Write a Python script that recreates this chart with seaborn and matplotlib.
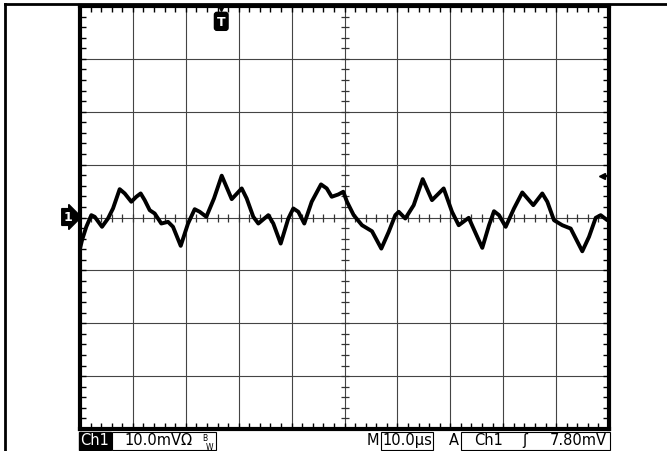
import numpy as np
import pandas as pd
import seaborn as sns
import matplotlib.pyplot as plt
from matplotlib.lines import Line2D
from matplotlib.patches import Rectangle

# ─── Trace (time in µs, amplitude in mV) ─────────────────────────────
time_us = [0.0, 0.38, 1.19, 2.14, 2.78, 4.16, 5.29, 6.24, 7.50, 8.45,
           9.70, 10.64, 11.47, 12.23, 13.18, 14.12, 15.37, 16.64, 17.58,
           19.04, 20.42, 21.68, 22.63, 23.88, 25.33, 26.79, 28.68, 30.57,
           31.51, 32.76, 33.71, 35.60, 36.54, 37.94, 39.38, 40.32, 41.27,
           42.40, 43.80, 45.56, 46.64, 47.58, 48.83, 49.77, 50.47, 51.74,
           53.31, 55.20, 56.96, 58.36, 59.60, 60.25, 61.49, 63.08, 64.78,
           66.54, 67.81, 68.75, 70.32, 71.59, 73.48, 75.24, 76.05, 77.32,
           78.26, 79.21, 80.47, 82.04, 83.61, 85.69, 87.39, 88.34, 89.60,
           91.17, 92.76, 94.95, 96.22, 97.49, 98.43, 99.68, 100.0]
volts_mv = [-5.9, -4.30, -1.76, 0.44, 0.13, -1.76, -0.19, 1.71, 5.36, 4.55,
            2.98, 3.92, 4.55, 3.28, 1.38, 0.76, -1.14, -0.82, -1.76,
            -5.36, -1.14, 1.57, 1.08, 0.13, 3.60, 7.91, 3.47, 5.50,
            3.60, 0.13, -1.14, 0.44, -1.14, -4.93, -0.19, 1.71, 1.08,
            -1.14, 2.98, 6.26, 5.50, 3.92, 4.36, 4.87, 2.98, 0.44,
            -1.46, -2.60, -5.88, -2.71, 0.44, 1.08, -0.19, 2.33, 7.26,
            3.28, 4.55, 5.50, 1.08, -1.46, -0.06, -3.98, -5.74, -1.46,
            1.19, 0.44, -1.76, 1.71, 4.74, 2.33, 4.55, 2.98, -0.51,
            -1.46, -2.09, -6.39, -3.66, -0.06, 0.44, -0.51, -0.38]

volts_per_div = 10.0      # mV/div
time_per_div = 10.0       # µs/div
trigger_level = 7.80      # mV
trigger_time = 26.7       # µs, "T" marker

status_ch = "Ch1"
status_scale = "10.0mV\u03a9"
status_time = "10.0\u00b5s"
status_trig_ch = "Ch1"
status_trig_edge = "\u0283"
status_trig_lvl = "7.80mV"

df = pd.DataFrame({"t": time_us, "v": volts_mv})

plt.rcParams["font.family"] = ["DejaVu Sans"]

W, H = 667, 452
fig = plt.figure(figsize=(W / 100, H / 100), dpi=100)


def fx(px):
    return px / W


def fy(py):
    return 1 - py / H


ax = fig.add_axes([fx(80), fy(430), fx(609) - fx(80), fy(7) - fy(430)])

# ─── Graticule ────────────────────────────────────────────────────────
xmax = 10 * time_per_div
ymax = 4 * volts_per_div
ax.set_xlim(0, xmax)
ax.set_ylim(-ymax, ymax)
for x in np.arange(time_per_div, xmax, time_per_div):
    ax.axvline(x, color="#444444", lw=0.8, zorder=1)
for y in np.arange(-ymax + volts_per_div, ymax, volts_per_div):
    ax.axhline(y, color="#444444", lw=0.8, zorder=1)

minor_x = np.arange(0, xmax + 0.01, time_per_div / 5)
minor_y = np.arange(-ymax, ymax + 0.01, volts_per_div / 5)
ax.plot(minor_x, np.zeros_like(minor_x), ls="none", marker="|", ms=6,
        mew=0.9, color="#333333", zorder=1)
ax.plot(np.full_like(minor_y, xmax / 2), minor_y, ls="none", marker="_",
        ms=6, mew=0.9, color="#333333", zorder=1)

ax.set_xticks(minor_x)
ax.set_yticks(minor_y)
ax.tick_params(direction="in", length=4, width=1, top=True, right=True,
               labelbottom=False, labelleft=False, color="black")
for s in ax.spines.values():
    s.set_linewidth(3)
    s.set_color("black")

# ─── Trace ────────────────────────────────────────────────────────────
sns.lineplot(data=df, x="t", y="v", ax=ax, color="black", lw=2.8,
             zorder=3, estimator=None)
ax.set_xlabel("")
ax.set_ylabel("")

# ─── Markers: channel, trigger position, trigger level ────────────────
fig.text(fx(68), fy(218), "1", color="white", fontsize=9, weight="bold",
         ha="center", va="center",
         bbox=dict(boxstyle="rarrow,pad=0.15", fc="black", ec="black"))
ax.plot([trigger_time], [ymax - 0.4], marker="v", ms=5, color="black",
        clip_on=False, zorder=4)
ax.text(trigger_time, ymax - 2.9, "T", color="white", fontsize=9,
        weight="bold", ha="center", va="center", zorder=4,
        bbox=dict(boxstyle="round,pad=0.2", fc="black", ec="black"))
ax.plot([xmax - 1.3], [trigger_level], marker="<", ms=5, color="black",
        zorder=4)
ax.plot([xmax - 1.3, xmax - 0.3], [trigger_level, trigger_level],
        color="black", lw=1, zorder=4)

# ─── Outer frame ──────────────────────────────────────────────────────
fig.add_artist(Line2D([fx(5), 1], [fy(5), fy(5)], color="black", lw=2))
fig.add_artist(Line2D([fx(5), fx(5)], [fy(5), 0], color="black", lw=2))

# ─── Status bar ───────────────────────────────────────────────────────
fs = 10.5
ty = fy(441)
top, bot = fy(433), fy(451)
fig.add_artist(Rectangle((fx(79), bot), fx(111) - fx(79), top - bot,
                         color="black"))
fig.text(fx(95), ty, status_ch, color="white", fontsize=fs,
         ha="center", va="center")
fig.add_artist(Rectangle((fx(112), bot), fx(216) - fx(112), top - bot,
                         fill=False, ec="black", lw=0.8))
fig.text(fx(124), ty, status_scale, fontsize=fs, ha="left", va="center")
fig.text(fx(202), fy(443), "B", fontsize=5.5, ha="left", va="bottom")
fig.text(fx(206), fy(443), "W", fontsize=5.5, ha="left", va="top")
fig.text(fx(379), ty, "M", fontsize=fs, ha="right", va="center")
fig.add_artist(Rectangle((fx(381), bot), fx(433) - fx(381), top - bot,
                         fill=False, ec="black", lw=0.8))
fig.text(fx(407), ty, status_time, fontsize=fs, ha="center", va="center")
fig.text(fx(454), ty, "A", fontsize=fs, ha="center", va="center")
fig.add_artist(Rectangle((fx(461), bot), fx(610) - fx(461), top - bot,
                         fill=False, ec="black", lw=0.8))
fig.text(fx(474), ty, status_trig_ch, fontsize=fs, ha="left", va="center")
fig.text(fx(525), ty, status_trig_edge, fontsize=fs, ha="center",
         va="center")
fig.text(fx(607), ty, status_trig_lvl, fontsize=fs, ha="right",
         va="center")

fig.savefig("out.png", dpi=100)
